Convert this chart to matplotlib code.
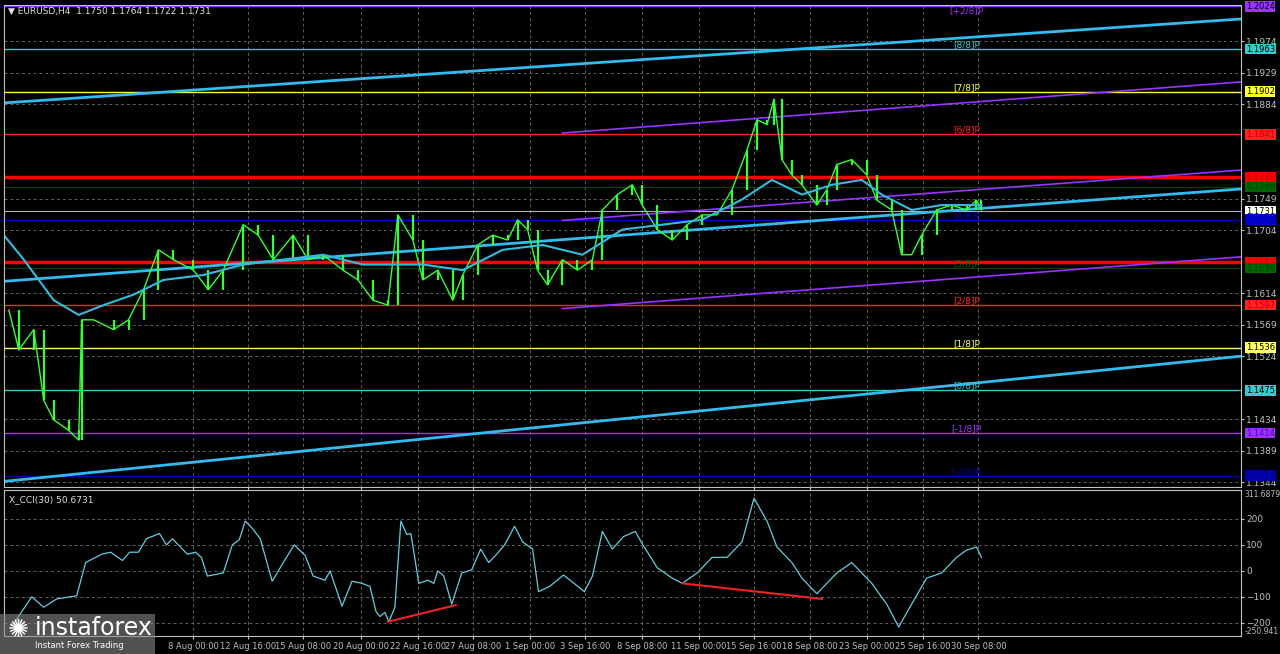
import matplotlib
matplotlib.use("Agg")
import matplotlib.pyplot as plt
from matplotlib.patches import FancyBboxPatch

# ---- data ----
price_t = [5,15,30,40,50,65,75,78,90,110,125,140,155,170,190,205,220,240,255,270,290,305,320,340,355,370,385,395,410,420,435,450,460,475,490,505,515,525,535,545,560,575,590,600,615,630,640,655,670,685,700,715,730,745,755,765,772,780,790,800,815,825,835,850,865,875,890,900,910,920,935,950,965,975,980]
price_c = [1.1590,1.1533,1.1562,1.1461,1.1433,1.1418,1.1404,1.1576,1.1576,1.1562,1.1576,1.1619,1.1676,1.1662,1.1647,1.1619,1.1647,1.1712,1.1697,1.1662,1.1697,1.1662,1.1669,1.1647,1.1633,1.1604,1.1597,1.1726,1.1690,1.1633,1.1647,1.1604,1.1640,1.1683,1.1697,1.1690,1.1719,1.1705,1.1647,1.1626,1.1662,1.1647,1.1662,1.1733,1.1755,1.1769,1.1740,1.1705,1.1690,1.1712,1.1726,1.1726,1.1762,1.1819,1.1862,1.1855,1.1891,1.1805,1.1783,1.1769,1.1740,1.1762,1.1798,1.1805,1.1783,1.1747,1.1733,1.1669,1.1669,1.1697,1.1733,1.1740,1.1733,1.1747,1.1733]
ma_t = [0,20,50,75,100,130,160,200,240,280,320,360,390,420,460,500,540,580,620,660,700,740,770,800,830,860,880,910,940,980]
ma_v = [1.1697,1.1662,1.1604,1.1583,1.1597,1.1612,1.1633,1.1640,1.1655,1.1662,1.1669,1.1655,1.1655,1.1655,1.1647,1.1676,1.1683,1.1669,1.1705,1.1712,1.1719,1.1748,1.1776,1.1755,1.1769,1.1776,1.1755,1.1733,1.1740,1.1740]
cci_t = [9,28,40,53,73,82,98,107,119,126,135,143,156,163,169,175,184,192,198,204,220,229,236,242,249,257,269,282,291,302,310,322,327,339,349,359,367,373,377,382,386,392,398,404,408,416,425,431,435,441,449,459,469,478,486,493,502,512,520,530,536,547,561,582,590,600,610,621,633,640,
         655,670,680,695,710,725,740,752,765,775,790,800,815,825,835,850,860,870,885,897,910,925,940,955,965,975,980]
cci_v = [-208,-100,-140,-108,-96,32,64,72,40,72,72,124,144,100,124,100,64,72,52,-20,-8,100,120,192,164,124,-40,44,100,60,-20,-36,0,-136,-40,-48,-60,-156,-176,-160,-196,-140,192,140,144,-48,-36,-48,0,-20,-128,-8,4,84,32,60,100,172,112,84,-80,-60,-16,-80,-20,152,84,132,152,104,
         12,-28,-48,-8,52,52,112,280,192,92,32,-28,-88,-48,-8,32,-8,-48,-128,-216,-128,-28,-8,52,80,92,52]
date_t = [190,245,300,358,415,470,527,583,640,697,752,808,865,921,977]
date_lbl = ["8 Aug 00:00","12 Aug 16:00","15 Aug 08:00","20 Aug 00:00","22 Aug 16:00","27 Aug 08:00","1 Sep 00:00","3 Sep 16:00","8 Sep 08:00","11 Sep 00:00","15 Sep 16:00","18 Sep 08:00","23 Sep 00:00","25 Sep 16:00","30 Sep 08:00"]
price_ticks = [1.1974,1.1929,1.1884,1.1749,1.1704,1.1614,1.1569,1.1524,1.1434,1.1389,1.1344]
levels = [1.2024,1.1963,1.1902,1.1841,1.1780,1.1766,1.1731,1.1719,1.1658,1.1650,1.1597,1.1536,1.1475,1.1414,1.1353]
level_col = ["#9933ff","#33cccc","#ffff33","#ff2020","#ff0000","#006600","#ffffff","#0000cc","#ff0000","#006600","#ff2020","#ffff66","#33cccc","#9933ff","#0000aa"]
level_txt = ["#000000","#000000","#000000","#cc0000","#cc0000","#004400","#000000","#0000aa","#cc0000","#004400","#cc0000","#000000","#000000","#6600aa","#000088"]
level_lw = [1,1,1,1,2.5,1,0.8,1,2.5,1,1,1,1,1,1]
murrey_lbl = ["[+2/8]P","[8/8]P","[7/8]P","[6/8]P","","","","[4/8]P","","[3/8]P","[2/8]P","[1/8]P","[0/8]P","[-1/8]P","[-2/8]P"]
cyan_ch = [((0,1.1886),(1240,1.2006)),((0,1.1631),(1240,1.1763)),((0,1.1345),(1240,1.1524))]
purple_ch = [((560,1.1843),(1240,1.1916)),((560,1.1718),(1240,1.1790)),((560,1.1592),(1240,1.1666))]
div_lines = [((385,-196),(453,-132)),((680,-48),(820,-108))]

W = 1240
fig = plt.figure(figsize=(12.8,6.54), dpi=100, facecolor="black")
ax = fig.add_axes([0.003, 1-487/654, 1237/1280, 482/654], facecolor="black")
ax2 = fig.add_axes([0.003, 1-636/654, 1237/1280, 146/654], facecolor="black")
for a in (ax, ax2):
    a.set_xlim(0, W)
    for s in a.spines.values():
        s.set_color("#c0c0c0")
    a.tick_params(colors="#c0c0c0", labelsize=6.5, length=2, pad=2)
    a.yaxis.tick_right()
    a.set_xticks(date_t)
    a.grid(True, color="#606060", ls=(0,(3,3)), lw=0.7)

ax.set_ylim(1.1337, 1.2026)
ax.set_yticks(price_ticks)
ax.set_yticklabels([f"{p:.4f}" for p in price_ticks])
ax.set_xticklabels([])

for i, (lv, c, lw, m) in enumerate(zip(levels, level_col, level_lw, murrey_lbl)):
    if lv in (1.1766, 1.1650, 1.1731):
        ax.axhline(lv, color=c, lw=0.8, alpha=0.7)
    else:
        ax.axhline(lv, color=c, lw=lw)
    if m:
        ax.text(965, lv, m, color=c, fontsize=6.5, va="top" if i == 0 else "bottom", ha="center")
for (p0, p1) in cyan_ch:
    ax.plot([p0[0], p1[0]], [p0[1], p1[1]], color="#33bbee", lw=2)
for (p0, p1) in purple_ch:
    ax.plot([p0[0], p1[0]], [p0[1], p1[1]], color="#9933ff", lw=1.2)

ax.vlines(price_t[1:], price_c[:-1], price_c[1:], color="#33ff33", lw=1.6)
ax.plot(price_t, price_c, color="#33ff33", lw=1.0)
ax.plot(ma_t, ma_v, color="#33bbdd", lw=1.5)

for lv, c, tc in zip(levels, level_col, level_txt):
    ax.text(1.004, lv, f"{lv:.4f}", transform=ax.get_yaxis_transform(), fontsize=6,
            color=tc, va="center", ha="left", zorder=10,
            bbox=dict(boxstyle="square,pad=0.1", fc=c, ec="none"), clip_on=False)
ax.text(4, 1.2017, "▼ EURUSD,H4  1.1750 1.1764 1.1722 1.1731", color="#e0e0e0", fontsize=6.5, va="center")

ax2.set_ylim(-250.941, 311.6879)
ax2.set_yticks([-200,-100,0,100,200])
ax2.set_xticklabels(date_lbl, fontsize=6)
ax2.plot(cci_t, cci_v, color="#66ccdd", lw=0.9)
for (p0, p1) in div_lines:
    ax2.plot([p0[0], p1[0]], [p0[1], p1[1]], color="#ee2222", lw=1.5)
ax2.text(5, 275, "X_CCI(30) 50.6731", color="#e0e0e0", fontsize=6.5, va="center")
ax2.text(1.003, 311.6879, "311.6879", transform=ax2.get_yaxis_transform(), fontsize=5.5, color="#c0c0c0", va="top")
ax2.text(1.003, -250.941, "-250.941", transform=ax2.get_yaxis_transform(), fontsize=5.5, color="#c0c0c0", va="bottom")

fig.patches.append(FancyBboxPatch((0, 0), 155/1280, 40/654, boxstyle="square,pad=0",
                                  transform=fig.transFigure, fc="#888888", ec="none", alpha=0.6))
fig.text(35/1280, 26/654, "instaforex", color="white", fontsize=17, va="center")
fig.text(35/1280, 8/654, "Instant Forex Trading", color="white", fontsize=6, va="center")
fig.text(8/1280, 24/654, "✺", color="white", fontsize=18, va="center")

fig.savefig("out.png", dpi=100, facecolor="black")
